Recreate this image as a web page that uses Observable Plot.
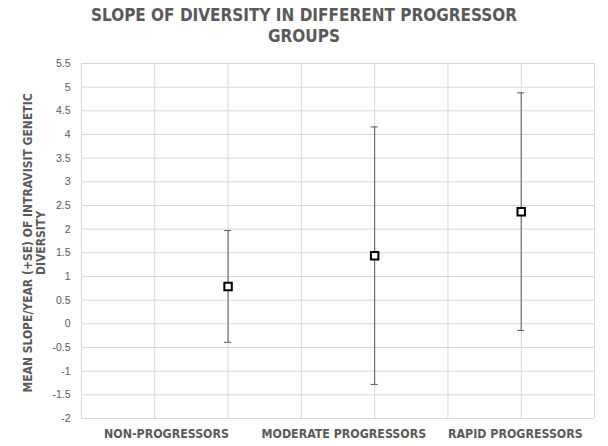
<!DOCTYPE html>
<html><head><meta charset="utf-8">
<script src="https://cdn.jsdelivr.net/npm/d3@7"></script>
<script src="https://cdn.jsdelivr.net/npm/@observablehq/plot@0.6"></script>
<style>
body{margin:0;background:#fff;width:608px;height:446px;overflow:hidden;font-family:"DejaVu Sans Condensed","DejaVu Sans",sans-serif;}
#title{height:52px;text-align:center;color:#595959;font-weight:bold;font-size:17px;line-height:21px;padding-top:5px;box-sizing:border-box;font-family:"DejaVu Sans Condensed",sans-serif;}
</style></head><body>
<div id="title">SLOPE OF DIVERSITY IN DIFFERENT PROGRESSOR<br>GROUPS</div>
<div id="chart"></div>
<script>
const groups = ["NON-PROGRESSORS", "MODERATE PROGRESSORS", "RAPID PROGRESSORS"];
const groupX = [1, 2, 3];
const means = [0.79, 1.44, 2.37];
const se = [1.18, 2.72, 2.51];
const labelX = [0.58, 1.79, 2.96];
const yTicks = d3.range(-2, 5.51, 0.5);
const xGrid = d3.range(0, 3.51, 0.5);

const data = groups.map((g, i) => ({g, x: groupX[i], m: means[i], lo: means[i] - se[i], hi: means[i] + se[i]}));
const labels = groups.map((g, i) => ({g, x: labelX[i]}));

const chart = Plot.plot({
  width: 608, height: 394,
  marginTop: 11, marginBottom: 28, marginLeft: 81, marginRight: 14,
  style: {fontFamily: "'Liberation Sans', Arial, sans-serif", background: "#fff"},
  x: {type: "linear", domain: [0, 3.5], axis: null},
  y: {type: "linear", domain: [-2, 5.5], axis: null},
  marks: [
    Plot.ruleY(yTicks, {stroke: "#d9d9d9", strokeWidth: 1}),
    Plot.ruleX(xGrid, {stroke: "#d9d9d9", strokeWidth: 1}),
    Plot.axisY({ticks: yTicks, tickSize: 0, tickPadding: 11, label: null, fill: "#595959", fontSize: 10.5,
      tickFormat: d => String(+d.toFixed(1))}),
    Plot.text(["MEAN SLOPE/YEAR (+SE) OF INTRAVISIT GENETIC\nDIVERSITY"], {frameAnchor: "left", textAnchor: "middle", rotate: -90, dx: -47, dy: 2,
      fill: "#595959", fontWeight: "bold", fontSize: 12, lineHeight: 1.05, fontFamily: "'DejaVu Sans Condensed', sans-serif"}),
    Plot.text(labels, {x: "x", text: "g", frameAnchor: "bottom", dy: 19, fill: "#595959", fontWeight: "bold", fontSize: 12.3,
      fontFamily: "'DejaVu Sans Condensed', sans-serif"}),
    Plot.ruleX(data, {x: "x", y1: "lo", y2: "hi", stroke: "#595959", strokeWidth: 1}),
    Plot.ruleY(data, {x1: "x", x2: "x", y: "lo", insetLeft: -3.5, insetRight: -3.5, stroke: "#595959", strokeWidth: 1}),
    Plot.ruleY(data, {x1: "x", x2: "x", y: "hi", insetLeft: -3.5, insetRight: -3.5, stroke: "#595959", strokeWidth: 1}),
    Plot.dot(data, {x: "x", y: "m", symbol: "square", r: 4.2, stroke: "#000", strokeWidth: 2, fill: "#fff"})
  ]
});
document.getElementById("chart").appendChild(chart);
</script>
</body></html>
